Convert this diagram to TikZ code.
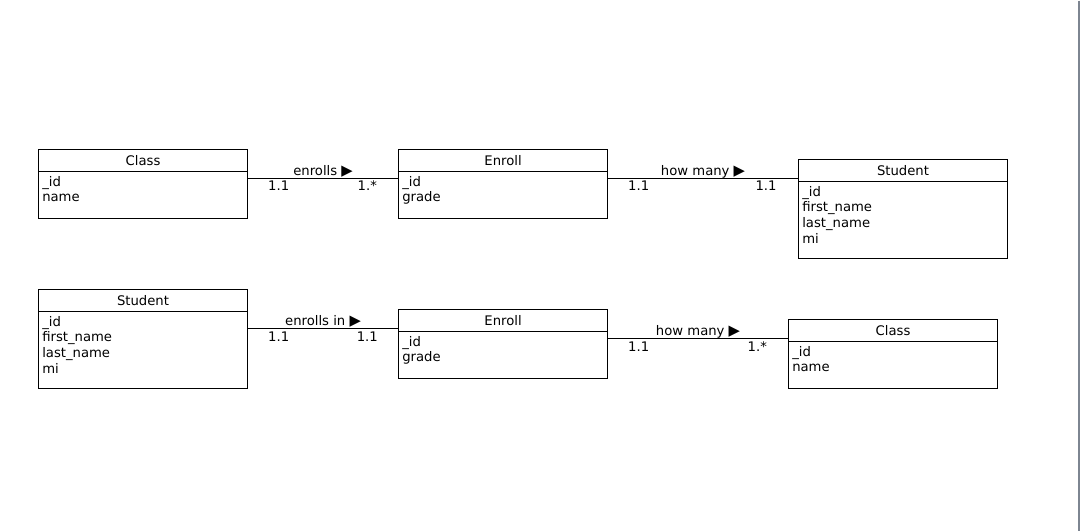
\documentclass[tikz,border=0pt]{standalone}
\usepackage{fontspec}
\setmainfont{DejaVu Sans}
\begin{document}
\begin{tikzpicture}[x=0.75pt,y=-0.75pt,
  font=\fontsize{9.9}{11.8}\selectfont,
  ent/.style={draw, line width=0.8pt, rectangle, minimum width=156.75pt, anchor=north west, inner sep=0pt},
  ttl/.style={inner sep=0pt, anchor=center},
  attr/.style={align=left, inner sep=0pt, anchor=north west},
  conn/.style={draw, line width=0.8pt},
  rel/.style={anchor=base, inner sep=0pt, yshift=2pt},
  mult/.style={anchor=base, inner sep=0pt, yshift=-9.3pt}
]
\newcommand{\tri}{\raisebox{0pt}{\scalebox{1.12}{▶}}}
\fill[white] (0,0) rectangle (1081,530);
\draw[color={rgb,255:red,125;green,133;blue,145}, line width=0.9pt] (1079,0) -- (1079,530);

% ---- top row ----
\node[ent, minimum height=51.75pt] (c1) at (38,148) {};
\node[ttl] (c1t) at ([yshift=-9pt]c1.north) {Class};
\draw ([yshift=-17.25pt]c1.north west) -- ([yshift=-17.25pt]c1.north east);
\node[attr] (c1a) at ([xshift=3pt,yshift=-20.5pt]c1.north west) {\_id\\name};

\node[ent, minimum height=51.75pt] (e1) at (398,148) {};
\node[ttl] (e1t) at ([yshift=-9pt]e1.north) {Enroll};
\draw ([yshift=-17.25pt]e1.north west) -- ([yshift=-17.25pt]e1.north east);
\node[attr] (e1a) at ([xshift=3pt,yshift=-20.5pt]e1.north west) {\_id\\grade};

\node[ent, minimum height=74.25pt] (s1) at (798,158) {};
\node[ttl] (s1t) at ([yshift=-9pt]s1.north) {Student};
\draw ([yshift=-17.25pt]s1.north west) -- ([yshift=-17.25pt]s1.north east);
\node[attr] (s1a) at ([xshift=3pt,yshift=-20.5pt]s1.north west) {\_id\\first\_name\\last\_name\\mi};

\coordinate (k1) at ([yshift=-22.5pt]c1.north east);
\draw[conn] (k1) -- (k1 -| e1.west)
  node[rel, midway] {enrolls \tri}
  node[mult, pos=0, xshift=23pt] {1.1}
  node[mult, pos=1, xshift=-23pt] {1.*};

\coordinate (k2) at ([yshift=-22.5pt]e1.north east);
\draw[conn] (k2) -- (k2 -| s1.west)
  node[rel, midway] {how many \tri}
  node[mult, pos=0, xshift=23pt] {1.1}
  node[mult, pos=1, xshift=-24pt] {1.1};

% ---- bottom row ----
\node[ent, minimum height=74.25pt] (s2) at (38,288) {};
\node[ttl] (s2t) at ([yshift=-9pt]s2.north) {Student};
\draw ([yshift=-17.25pt]s2.north west) -- ([yshift=-17.25pt]s2.north east);
\node[attr] (s2a) at ([xshift=3pt,yshift=-20.5pt]s2.north west) {\_id\\first\_name\\last\_name\\mi};

\node[ent, minimum height=51.75pt] (e2) at (398,308) {};
\node[ttl] (e2t) at ([yshift=-9pt]e2.north) {Enroll};
\draw ([yshift=-17.25pt]e2.north west) -- ([yshift=-17.25pt]e2.north east);
\node[attr] (e2a) at ([xshift=3pt,yshift=-20.5pt]e2.north west) {\_id\\grade};

\node[ent, minimum height=51.75pt] (c2) at (788,318) {};
\node[ttl] (c2t) at ([yshift=-9pt]c2.north) {Class};
\draw ([yshift=-17.25pt]c2.north west) -- ([yshift=-17.25pt]c2.north east);
\node[attr] (c2a) at ([xshift=3pt,yshift=-20.5pt]c2.north west) {\_id\\name};

\coordinate (k3) at ([yshift=-30pt]s2.north east);
\draw[conn] (k3) -- (k3 -| e2.west)
  node[rel, midway] {enrolls in \tri}
  node[mult, pos=0, xshift=23pt] {1.1}
  node[mult, pos=1, xshift=-23pt] {1.1};

\coordinate (k4) at ([yshift=-22.5pt]e2.north east);
\draw[conn] (k4) -- (k4 -| c2.west)
  node[rel, midway] {how many \tri}
  node[mult, pos=0, xshift=23pt] {1.1}
  node[mult, pos=1, xshift=-23pt] {1.*};
\end{tikzpicture}
\end{document}
